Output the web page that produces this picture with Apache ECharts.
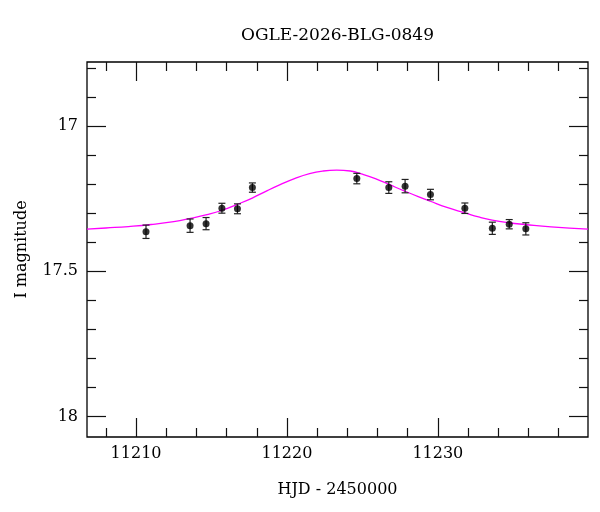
<!DOCTYPE html>
<html>
<head>
<meta charset="utf-8">
<script src="https://cdn.jsdelivr.net/npm/echarts@6/dist/echarts.min.js"></script>
<style>
  html,body{margin:0;padding:0;background:#fff;}
  #chart{width:600px;height:512px;}
</style>
</head>
<body>
<div id="chart"></div>
<script>
// observations (HJD - 2450000, I mag, error)
const obsT = [11210.66, 11213.58, 11214.64, 11215.69, 11216.72, 11217.71, 11224.63, 11226.75, 11227.83, 11229.51, 11231.79, 11233.61, 11234.73, 11235.83];
const obsMag = [17.364, 17.343, 17.336, 17.283, 17.285, 17.212, 17.181, 17.212, 17.207, 17.236, 17.283, 17.352, 17.338, 17.354];
const obsErr = [0.023, 0.023, 0.021, 0.017, 0.017, 0.016, 0.018, 0.020, 0.023, 0.018, 0.018, 0.021, 0.016, 0.021];

// model curve
const modelT = [11206.75, 11208, 11209.5, 11211, 11212.5, 11213.6, 11214.7, 11215.7, 11216.7, 11217.7, 11218.6, 11219.55, 11220.5, 11221.5, 11222.4, 11223.3, 11224.2, 11225.0, 11225.9, 11226.8, 11227.8, 11228.7, 11229.5, 11230.6, 11231.8, 11232.7, 11233.6, 11234.7, 11235.8, 11237.5, 11239.95];
const modelMag = [17.355, 17.351, 17.346, 17.339, 17.329, 17.318, 17.305, 17.290, 17.270, 17.248, 17.225, 17.202, 17.181, 17.164, 17.155, 17.152, 17.155, 17.166, 17.182, 17.202, 17.224, 17.243, 17.259, 17.280, 17.299, 17.313, 17.324, 17.333, 17.339, 17.347, 17.355];

// ticks
const xMajor = [11210, 11220, 11230];
const xMinor = [11208, 11212, 11214, 11216, 11218, 11222, 11224, 11226, 11228, 11232, 11234, 11236, 11238];
const yMajor = [17, 17.5, 18];
const yMinor = [16.8, 16.9, 17.1, 17.2, 17.3, 17.4, 17.6, 17.7, 17.8, 17.9];

const FONT = '"DejaVu Serif", "Liberation Serif", serif';
const xMin = 11206.75, xMax = 11239.95, yMin = 16.78, yMax = 18.07;

function xAx(pos, ticks, len, labels, extra){
  return Object.assign({
    type:'value', position:pos, min:xMin, max:xMax,
    axisLine:{show:false}, splitLine:{show:false},
    axisTick:{show:true, inside:true, length:len, customValues:ticks, lineStyle:{color:'#111', width:1.2}},
    axisLabel:{show:!!labels, customValues:labels||[], margin:9, color:'#000', fontFamily:FONT, fontSize:16, formatter:v=>String(v)}
  }, extra||{});
}
function yAx(pos, ticks, len, labels, extra){
  return Object.assign({
    type:'value', position:pos, min:yMin, max:yMax, inverse:true,
    axisLine:{show:false}, splitLine:{show:false},
    axisTick:{show:true, inside:true, length:len, customValues:ticks, lineStyle:{color:'#111', width:1.2}},
    axisLabel:{show:!!labels, customValues:labels||[], margin:9, color:'#000', fontFamily:FONT, fontSize:16, formatter:v=>String(v)}
  }, extra||{});
}

const chart = echarts.init(document.getElementById('chart'));
chart.setOption({
  animation:false,
  backgroundColor:'#fff',
  grid:{left:87, right:12, top:62, bottom:75, show:true, borderColor:'#000', borderWidth:1.3, backgroundColor:'transparent'},
  graphic:[{type:'text', x:337.5, y:36, style:{text:'OGLE-2026-BLG-0849', fill:'#000', font:'17px '+FONT, textAlign:'center', textVerticalAlign:'middle'}}],
  xAxis:[
    xAx('bottom', xMinor, 9),
    xAx('bottom', xMajor, 19, xMajor, {name:'HJD - 2450000', nameLocation:'middle', nameGap:45, nameTextStyle:{color:'#000', fontFamily:FONT, fontSize:16}}),
    xAx('top', xMinor, 9),
    xAx('top', xMajor, 19)
  ],
  yAxis:[
    yAx('left', yMinor, 9),
    yAx('left', yMajor, 19, yMajor, {name:'I magnitude', nameLocation:'middle', nameGap:57, nameTextStyle:{color:'#000', fontFamily:FONT, fontSize:16}}),
    yAx('right', yMinor, 9),
    yAx('right', yMajor, 19)
  ],
  series:[
    {
      type:'line', xAxisIndex:0, yAxisIndex:0, showSymbol:false, smooth:0.5,
      data:modelT.map((t,i)=>[t, modelMag[i]]),
      lineStyle:{color:'#ff00ff', width:1.3}, z:2
    },
    {
      type:'custom', xAxisIndex:0, yAxisIndex:0, z:3,
      data:obsT.map((t,i)=>[t, obsMag[i], obsErr[i]]),
      renderItem:(params, api)=>{
        const t = api.value(0), m = api.value(1), e = api.value(2);
        const hi = api.coord([t, m - e]), lo = api.coord([t, m + e]);
        const w = 3.5, st = {stroke:'#222', lineWidth:1.2};
        return {type:'group', children:[
          {type:'line', shape:{x1:hi[0], y1:hi[1], x2:lo[0], y2:lo[1]}, style:st},
          {type:'line', shape:{x1:hi[0]-w, y1:hi[1], x2:hi[0]+w, y2:hi[1]}, style:st},
          {type:'line', shape:{x1:lo[0]-w, y1:lo[1], x2:lo[0]+w, y2:lo[1]}, style:st}
        ]};
      }
    },
    {
      type:'scatter', xAxisIndex:0, yAxisIndex:0, z:4,
      data:obsT.map((t,i)=>[t, obsMag[i]]),
      symbol:'circle', symbolSize:7, itemStyle:{color:'#000'}
    }
  ]
});
</script>
</body>
</html>
